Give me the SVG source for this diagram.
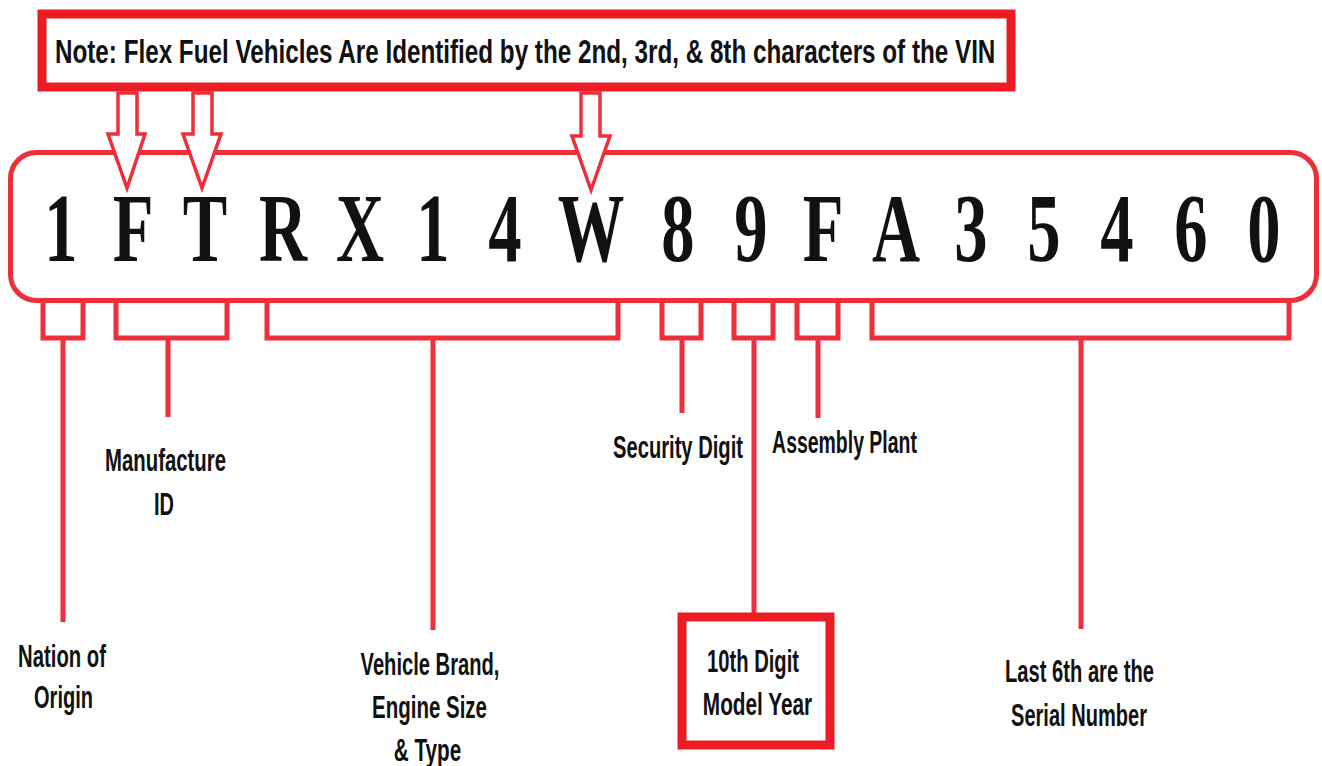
<svg xmlns="http://www.w3.org/2000/svg" width="1322" height="766" viewBox="0 0 1322 766">
<style>
.frame{fill:#fff;stroke:#ed1c24;stroke-width:9}
.line{fill:none;stroke:#ee2f3a;stroke-width:5}
.arrow{fill:#fff;stroke:#ee2f3a;stroke-width:3.5;stroke-linejoin:miter}
.lbl{font-family:"Liberation Sans",Arial,sans-serif;font-weight:bold;font-size:32px;fill:#111;text-anchor:middle}
.note{font-family:"Liberation Sans",Arial,sans-serif;font-weight:bold;font-size:34px;fill:#111}
.ch{font-family:"Liberation Serif","Times New Roman",serif;font-weight:bold;font-size:98px;fill:#111;text-anchor:middle}
</style>
<rect width="1322" height="766" fill="#fff"/>
<g id="vin-box">
<rect x="10.5" y="152.5" width="1306" height="148" rx="26" ry="26" fill="#fff" stroke="#ee2f3a" stroke-width="5"/>
<g transform="scale(0.68 1)">
<text class="ch" x="89.7" y="261">1</text>
<text class="ch" x="195.6" y="261">F</text>
<text class="ch" x="301.5" y="261">T</text>
<text class="ch" x="416.2" y="261">R</text>
<text class="ch" x="529.4" y="261">X</text>
<text class="ch" x="636.8" y="261">1</text>
<text class="ch" x="742.6" y="261">4</text>
<text class="ch" x="869.1" y="261">W</text>
<text class="ch" x="997.1" y="261">8</text>
<text class="ch" x="1104.4" y="261">9</text>
<text class="ch" x="1210.3" y="261">F</text>
<text class="ch" x="1317.6" y="261">A</text>
<text class="ch" x="1427.9" y="261">3</text>
<text class="ch" x="1535.3" y="261">5</text>
<text class="ch" x="1642.6" y="261">4</text>
<text class="ch" x="1751.5" y="261">6</text>
<text class="ch" x="1858.8" y="261">0</text>
</g>
</g>
<g id="note">
<rect class="frame" x="42" y="14" width="969" height="73"/>
<text class="note" transform="translate(55 63) scale(0.713 1)">Note: Flex Fuel Vehicles Are Identified by the 2nd, 3rd, &amp; 8th characters of the VIN</text>
</g>
<g id="connectors">
<polygon class="arrow" points="118,93 137,93 137,134 145,134 127,188 108,134 118,134"/>
<polygon class="arrow" points="193,93 212,93 212,134 221,134 202,188 183,134 193,134"/>
<polygon class="arrow" points="581,93 600,93 600,136 610,136 591,190 572,136 581,136"/>
<path class="line" d="M43,300 V338 H83 V300 M63,338 V622"/>
<path class="line" d="M116,300 V338 H227 V300 M168,338 V417"/>
<path class="line" d="M267,300 V338 H618 V300 M433,338 V630"/>
<path class="line" d="M662,300 V338 H701 V300 M682,338 V413"/>
<path class="line" d="M734,300 V338 H773 V300 M754,338 V613"/>
<path class="line" d="M797,300 V338 H838 V300 M818,338 V418"/>
<path class="line" d="M872,300 V338 H1289 V300 M1081,338 V629"/>
</g>
<g id="nation">
<text class="lbl" transform="translate(62 667) scale(0.634 1)">Nation of</text>
<text class="lbl" transform="translate(63.5 708) scale(0.626 1)">Origin</text>
</g>
<g id="manufacture">
<text class="lbl" transform="translate(165.5 471) scale(0.636 1)">Manufacture</text>
<text class="lbl" transform="translate(164 515) scale(0.625 1)">ID</text>
</g>
<g id="vehicle">
<text class="lbl" transform="translate(430 675) scale(0.63 1)">Vehicle Brand,</text>
<text class="lbl" transform="translate(429.5 718) scale(0.64 1)">Engine Size</text>
<text class="lbl" transform="translate(427.5 761) scale(0.647 1)">&amp; Type</text>
</g>
<g id="security">
<text class="lbl" transform="translate(678 458) scale(0.63 1)">Security Digit</text>
</g>
<g id="assembly">
<text class="lbl" transform="translate(844.5 453) scale(0.608 1)">Assembly Plant</text>
</g>
<g id="model-year">
<rect class="frame" x="682" y="617" width="148" height="128"/>
<text class="lbl" transform="translate(753 672) scale(0.631 1)">10th Digit</text>
<text class="lbl" transform="translate(757.5 715) scale(0.65 1)">Model Year</text>
</g>
<g id="serial">
<text class="lbl" transform="translate(1079.5 682) scale(0.63 1)">Last 6th are the</text>
<text class="lbl" transform="translate(1079 726) scale(0.627 1)">Serial Number</text>
</g>
</svg>
